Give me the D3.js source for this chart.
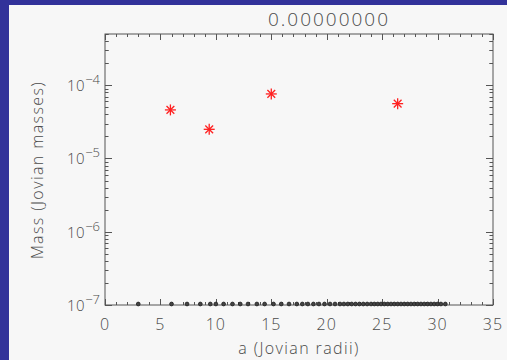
<!DOCTYPE html>
<html><head><meta charset="utf-8">
<script src="https://cdn.jsdelivr.net/npm/d3@7"></script>
<style>
html,body{margin:0;padding:0;background:#32329a;}
svg{display:block;}
text{font-family:"Open Sans","DejaVu Sans",sans-serif;font-weight:300;fill:#4a4a4a;}
</style></head>
<body>
<svg id="c" width="507" height="360"></svg>
<script>
// Data
const title = "0.00000000";
const xTickValues = [0,5,10,15,20,25,30,35];
const yTickExponents = [-7,-6,-5,-4];
const planetA = [5.9, 9.4, 15.0, 26.4];
const planetMass = [4.6e-5, 2.5e-5, 7.6e-5, 5.6e-5];
const diskA = [3.0, 6.0, 7.4, 8.6, 9.5, 10.0, 10.7, 11.5, 12.2, 12.9, 13.7, 14.4, 15.2, 15.9, 16.6, 17.3,
  17.8, 18.3, 18.8, 19.3, 19.8, 20.3, 20.75, 21.2, 21.55, 21.9, 22.25, 22.6, 22.95, 23.3, 23.65, 24.0,
  24.3, 24.6, 24.9, 25.2, 25.5, 25.8, 26.1, 26.4, 26.7, 27.0, 27.3, 27.6, 27.9, 28.2, 28.5, 28.8,
  29.1, 29.4, 29.7, 30.0, 30.3, 30.7];
const diskMass = diskA.map(() => 1e-7);

const svg = d3.select("#c");
// panel
svg.append("rect").attr("x",9).attr("y",5).attr("width",498).attr("height",355).attr("fill","#f7f7f7");

const L=105, R=493, T=34, B=305;
const x = d3.scaleLinear().domain([0,35]).range([L,R]);
const y = d3.scaleLog().domain([1e-7,5e-4]).range([B,T]);
const axisCol = "#555";

// frame
svg.append("rect").attr("x",L).attr("y",T).attr("width",R-L).attr("height",B-T)
  .attr("fill","none").attr("stroke",axisCol).attr("stroke-width",1);

// x ticks
const xMinor = d3.range(0,36,1);
const g = svg.append("g").attr("stroke",axisCol).attr("stroke-width",1);
xMinor.forEach(v=>{
  const len = (v%5===0)?6:3;
  const px = Math.round(x(v))+0.5;
  g.append("line").attr("x1",px).attr("x2",px).attr("y1",B).attr("y2",B-len);
  g.append("line").attr("x1",px).attr("x2",px).attr("y1",T).attr("y2",T+len);
});
// y ticks (log)
const yT = [];
yTickExponents.forEach(e=>{ for(let m=1;m<=9;m++){ const v=m*Math.pow(10,e); yT.push([v,m===1]); } });
yT.push([2e-4,false],[3e-4,false],[4e-4,false],[5e-4,false]);
yT.filter(d=>d[0]<=5e-4).forEach(([v,maj])=>{
  const len = maj?7:3.5;
  const py = Math.round(y(v))+0.5;
  g.append("line").attr("x1",L).attr("x2",L+len).attr("y1",py).attr("y2",py);
  g.append("line").attr("x1",R).attr("x2",R-len).attr("y1",py).attr("y2",py);
});

// x tick labels
svg.selectAll(".xl").data(xTickValues).enter().append("text")
  .attr("x",d=>x(d)).attr("y",330).attr("text-anchor","middle")
  .attr("font-size",16).attr("letter-spacing",1).text(d=>d);
// y tick labels
yTickExponents.forEach(e=>{
  const t = svg.append("text").attr("x",100).attr("y",y(Math.pow(10,e))+6)
    .attr("text-anchor","end").attr("font-size",15);
  t.append("tspan").attr("letter-spacing",0.5).text("10");
  t.append("tspan").attr("dy",-7).attr("font-size",13).text("\u2212"+Math.abs(e));
});

// titles
svg.append("text").attr("x",329).attr("y",26).attr("text-anchor","middle").attr("font-size",19)
  .attr("letter-spacing",2).text(title);
svg.append("text").attr("x",299).attr("y",354).attr("text-anchor","middle").attr("font-size",16)
  .attr("letter-spacing",1.4).text("a (Jovian radii)");
svg.append("text").attr("transform","translate(43,170) rotate(-90)").attr("text-anchor","middle")
  .attr("font-size",16).attr("letter-spacing",1.4).text("Mass (Jovian masses)");

// disk particles
svg.append("g").selectAll("circle").data(diskA).enter().append("circle")
  .attr("cx",d=>x(d)).attr("cy",(d,i)=>y(diskMass[i])-1)
  .attr("r",1.9).attr("fill","#444").attr("stroke","#222").attr("stroke-width",0.8);

// planets (asterisks)
const star = svg.append("g").attr("stroke","#ff2020").attr("stroke-width",1.3);
planetA.forEach((a,i)=>{
  const cx=x(a), cy=y(planetMass[i]), r=5.5;
  [0,45,90,135].forEach(ang=>{
    const rad=ang*Math.PI/180;
    star.append("line").attr("x1",cx-r*Math.cos(rad)).attr("y1",cy-r*Math.sin(rad))
      .attr("x2",cx+r*Math.cos(rad)).attr("y2",cy+r*Math.sin(rad));
  });
});
</script>
</body></html>
